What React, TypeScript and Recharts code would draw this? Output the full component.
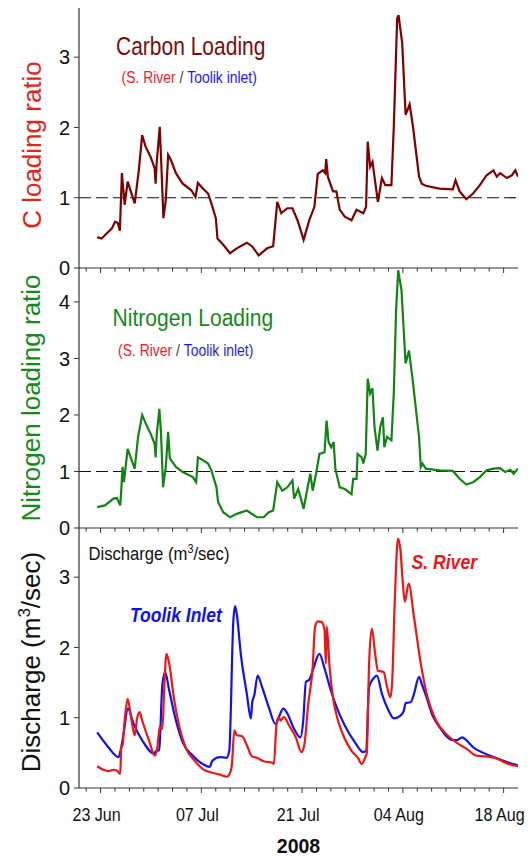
import React from "react";
import { LineChart, Line, XAxis, YAxis, ReferenceLine } from "recharts";

// ---- Shared time axis (day of year, 2008) ----
const domainDays: [number, number] = [172, 233];
const majorDays = [175, 189, 203, 217, 231];
const majorLabels = ["23 Jun", "07 Jul", "21 Jul", "04 Aug", "18 Aug"];
const minorDays = [
  173, 175, 177, 179, 181, 183, 185, 187, 189, 191, 193, 195, 197, 199, 201,
  203, 205, 207, 209, 211, 213, 215, 217, 219, 221, 223, 225, 227, 229, 231,
];

// ---- Carbon loading ratio (S. River / Toolik inlet) ----
const carbonDays = [
  174.53, 175.14, 175.85, 176.55, 177.02, 177.4, 177.68, 177.96, 178.34, 178.76,
  179.74, 180.31, 180.78, 181.24, 181.95, 182.51, 182.65, 182.79, 183.22, 183.45,
  183.73, 184.06, 184.39, 184.76, 185.47, 186.41, 187.58, 188.19, 188.52, 189.22,
  189.93, 190.4, 191.01, 191.24, 192.04, 192.98, 193.92, 195.32, 196.03, 196.97,
  198.14, 198.98, 199.55, 200.11, 200.95, 201.66, 202.36, 203.21, 204.0, 204.71,
  205.18, 205.88, 206.21, 206.35, 206.58, 207.29, 207.76, 208.23, 208.93, 209.87,
  210.57, 211.51, 211.89, 212.12, 212.45, 212.78, 213.53, 214.09, 214.56, 215.41,
  215.74, 216.21, 216.4, 216.91, 217.38, 217.94, 218.41, 219.25, 219.63, 220.19,
  222.07, 223.95, 224.32, 224.89, 225.82, 226.76, 227.7, 228.64, 229.58, 230.05,
  230.52, 231.46, 232.16, 232.63, 233.0,
];
const carbonRatio = [
  0.44, 0.42, 0.49, 0.56, 0.66, 0.64, 0.53, 1.35, 0.9, 1.23,
  0.92, 1.39, 1.89, 1.73, 1.58, 1.42, 1.2, 1.49, 2.01, 1.44,
  0.71, 0.97, 1.61, 1.54, 1.35, 1.2, 1.11, 1.01, 1.21, 1.13,
  1.06, 0.92, 0.71, 0.42, 0.33, 0.21, 0.28, 0.36, 0.31, 0.18,
  0.28, 0.31, 0.94, 0.78, 0.85, 0.85, 0.68, 0.4, 0.68, 0.87,
  1.34, 1.39, 1.35, 1.55, 1.3, 1.09, 1.09, 0.83, 0.73, 0.68,
  0.83, 0.78, 0.87, 1.8, 1.44, 1.51, 0.94, 1.28, 1.18, 1.18,
  2.01, 3.55, 3.6, 3.2, 2.18, 2.33, 2.01, 1.3, 1.2, 1.17,
  1.13, 1.12, 1.25, 1.09, 0.98, 1.06, 1.18, 1.32, 1.39, 1.3,
  1.35, 1.28, 1.32, 1.39, 1.3,
];

// ---- Nitrogen loading ratio (S. River / Toolik inlet) ----
const nitrogenDays = [
  174.53, 175.61, 176.79, 177.26, 177.73, 177.87, 178.05, 178.24, 178.76, 179.74,
  180.21, 180.78, 181.48, 181.95, 182.51, 182.65, 182.79, 183.17, 183.4, 183.68,
  184.06, 184.39, 184.62, 185.47, 186.41, 187.81, 188.28, 188.52, 189.22, 189.93,
  190.4, 191.1, 191.33, 192.04, 192.98, 193.92, 195.32, 196.73, 197.67, 198.37,
  198.98, 199.55, 200.25, 200.95, 201.66, 201.89, 202.46, 202.83, 203.21, 203.77,
  204.14, 204.47, 204.94, 205.41, 206.12, 206.4, 206.68, 207.05, 207.38, 207.62,
  208.23, 208.93, 209.87, 210.1, 210.57, 210.71, 211.28, 211.51, 211.84, 212.12,
  212.45, 212.78, 213.06, 213.48, 213.86, 214.23, 214.42, 214.8, 215.41, 215.74,
  216.06, 216.35, 216.81, 217.38, 217.85, 218.32, 219.25, 219.49, 219.72, 220.19,
  222.07, 223.95, 224.89, 225.82, 226.76, 227.7, 228.64, 229.58, 230.52, 231.22,
  231.93, 232.39, 233.0,
];
const nitrogenRatio = [
  0.37, 0.4, 0.52, 0.53, 0.4, 0.66, 1.08, 0.81, 1.4, 1.05,
  1.61, 2.0, 1.79, 1.67, 1.49, 1.25, 1.64, 2.11, 1.67, 0.72,
  1.08, 1.7, 1.23, 1.08, 0.99, 0.9, 0.81, 1.25, 1.2, 1.14,
  1.02, 0.72, 0.46, 0.28, 0.19, 0.25, 0.31, 0.19, 0.19, 0.28,
  0.31, 0.81, 0.66, 0.72, 0.84, 0.52, 0.69, 0.52, 0.34, 0.72,
  0.96, 0.66, 0.96, 1.31, 1.34, 1.9, 1.52, 1.43, 1.52, 1.05,
  0.72, 0.69, 0.6, 0.87, 0.87, 1.31, 1.25, 1.14, 1.31, 2.64,
  2.38, 2.47, 1.79, 1.37, 1.79, 1.96, 1.43, 1.61, 1.55, 2.38,
  3.85, 4.56, 4.21, 2.91, 3.14, 2.67, 1.61, 1.08, 1.14, 1.05,
  1.02, 1.01, 0.87, 0.77, 0.81, 0.9, 1.02, 1.05, 1.06, 0.99,
  1.03, 0.96, 1.05,
];

// ---- Discharge, Toolik Inlet (m3/sec) ----
const toolikDays = [
  174.53, 176.08, 177.49, 177.87, 178.19, 178.8, 179.6, 180.78, 182.42, 182.75,
  183.12, 183.59, 183.97, 184.53, 185.47, 186.41, 187.81, 189.22, 190.16, 190.54,
  191.57, 192.51, 192.88, 193.45, 193.68, 193.92, 194.48, 195.32, 195.89, 196.07,
  196.36, 196.82, 197.43, 198.37, 199.31, 199.78, 200.39, 200.95, 201.89, 202.74,
  203.16, 203.53, 204.0, 204.47, 205.41, 206.12, 207.05, 207.99, 208.93, 210.34,
  211.51, 211.89, 212.31, 212.92, 213.39, 214.09, 215.03, 215.74, 216.67, 217.14,
  217.38, 218.08, 218.55, 219.25, 219.63, 220.19, 221.13, 222.07, 223.95, 224.42,
  225.26, 225.82, 226.76, 228.17, 229.58, 231.46, 233.0,
];
const toolikFlow = [
  0.79, 0.58, 0.44, 0.58, 0.77, 1.13, 0.91, 0.68, 0.49, 0.53,
  0.53, 1.48, 1.65, 1.39, 0.96, 0.65, 0.46, 0.34, 0.3, 0.39,
  0.44, 0.43, 0.53, 2.39, 2.59, 2.48, 1.91, 1.34, 0.99, 1.22,
  1.32, 1.6, 1.44, 1.15, 0.91, 1.01, 1.13, 1.06, 0.84, 0.72,
  0.96, 1.51, 1.54, 1.67, 1.91, 1.7, 1.37, 1.1, 0.89, 0.65,
  0.51, 0.53, 1.44, 1.56, 1.6, 1.34, 1.1, 0.99, 1.03, 1.1,
  1.21, 1.22, 1.34, 1.58, 1.48, 1.32, 1.03, 0.87, 0.68, 0.68,
  0.72, 0.68, 0.58, 0.5, 0.44, 0.37, 0.32,
];

// ---- Discharge, S. River (m3/sec) ----
const riverDays = [
  174.53, 175.38, 176.08, 176.79, 177.26, 177.73, 177.87, 178.05, 178.34, 178.76,
  179.23, 179.74, 180.07, 180.4, 180.78, 181.71, 182.56, 182.89, 183.22, 183.59,
  183.83, 184.15, 184.53, 185.23, 185.94, 186.88, 188.05, 189.22, 190.4, 191.57,
  192.51, 192.88, 193.21, 193.59, 193.92, 194.62, 195.32, 196.03, 196.73, 197.67,
  198.84, 199.08, 199.45, 199.78, 200.02, 200.48, 201.19, 202.13, 202.92, 203.3,
  203.86, 204.47, 204.8, 205.18, 205.74, 206.12, 206.3, 206.42, 206.82, 207.29,
  207.99, 208.93, 209.87, 210.81, 211.28, 211.75, 211.98, 212.31, 212.69, 213.15,
  213.53, 214.33, 214.8, 215.27, 215.5, 215.88, 216.33, 216.67, 217.0, 217.28,
  217.8, 218.55, 219.49, 220.43, 221.6, 223.01, 224.42, 225.82, 227.23, 228.64,
  230.05, 231.46, 233.0,
];
const riverFlow = [
  0.31, 0.26, 0.24, 0.26, 0.25, 0.2, 0.58, 0.61, 0.96, 1.27,
  1.01, 0.75, 0.99, 1.08, 0.96, 0.68, 0.46, 0.58, 0.87, 0.84,
  1.39, 1.91, 1.77, 1.25, 0.87, 0.56, 0.39, 0.27, 0.22, 0.19,
  0.16, 0.19, 0.3, 0.82, 0.75, 0.74, 0.61, 0.45, 0.43, 0.38,
  0.36, 0.34, 0.91, 1.01, 0.96, 1.01, 0.89, 0.72, 0.51, 0.61,
  1.2, 1.72, 2.29, 2.37, 2.36, 2.24, 1.77, 2.3, 1.72, 1.29,
  0.96, 0.7, 0.53, 0.42, 0.34, 0.43, 0.49, 1.77, 2.27, 1.91,
  1.67, 1.65, 1.44, 1.29, 1.48, 2.67, 3.55, 3.38, 2.91, 2.65,
  2.91, 2.43, 1.77, 1.29, 0.96, 0.77, 0.65, 0.56, 0.46, 0.45,
  0.42, 0.35, 0.31,
];

const pairUp = (days: number[], vals: number[]) =>
  days.map((d, i) => ({ d, v: vals[i] }));

const carbonData = pairUp(carbonDays, carbonRatio);
const nitrogenData = pairUp(nitrogenDays, nitrogenRatio);
const toolikData = pairUp(toolikDays, toolikFlow);
const riverData = pairUp(riverDays, riverFlow);

// ---- Styling ----
const FONT = '"Liberation Sans", Arial, Helvetica, sans-serif';
const FRAME = "#333333";
const W = 530;
const PLOT_LEFT = 79;
const PLOT_RIGHT_GAP = 12;

const BottomTick = (props: any) => {
  const { x, y, payload, withLabel } = props;
  const idx = majorDays.indexOf(payload.value);
  const major = idx >= 0;
  return (
    <g>
      <line x1={x} x2={x} y1={y} y2={y + (major ? 5 : 3.5)} stroke={FRAME} strokeWidth={1} />
      {withLabel && major ? (
        <text
          transform={`translate(${x - 4},${y + 33}) scale(0.87,1)`}
          textAnchor="middle"
          fontSize={18.5}
          fill="#111"
          fontFamily={FONT}
        >
          {majorLabels[idx]}
        </text>
      ) : null}
    </g>
  );
};

const TopTick = (props: any) => {
  const { x, y } = props;
  return <line x1={x} x2={x} y1={y} y2={y + 5} stroke={FRAME} strokeWidth={1} />;
};

const RightTick = (props: any) => {
  const { x, y } = props;
  return <line x1={x - 5} x2={x} y1={y} y2={y} stroke={FRAME} strokeWidth={1} />;
};

type PanelProps = {
  top: number;
  height: number;
  marginTop: number;
  axisHeight: number;
  yMax: number;
  yTicks: number[];
  withLabels: boolean;
  dashedOne: boolean;
  children: React.ReactNode;
};

const Panel = ({ top, height, marginTop, axisHeight, yMax, yTicks, withLabels, dashedOne, children }: PanelProps) => (
  <div style={{ position: "absolute", left: 0, top, width: W, height }}>
    <LineChart
      width={W}
      height={height}
      margin={{ top: marginTop, right: PLOT_RIGHT_GAP, bottom: 0, left: 0 }}
    >
      <XAxis
        xAxisId="b"
        type="number"
        dataKey="d"
        domain={domainDays}
        allowDataOverflow
        ticks={minorDays}
        interval={0}
        tickSize={0}
        tickMargin={0}
        tickLine={false}
        tick={(p: any) => <BottomTick {...p} withLabel={withLabels} />}
        axisLine={{ stroke: FRAME, strokeWidth: 1.2 }}
        height={axisHeight}
      />
      <XAxis
        xAxisId="t"
        orientation="top"
        type="number"
        dataKey="d"
        domain={domainDays}
        allowDataOverflow
        ticks={majorDays}
        interval={0}
        tickSize={0}
        tickMargin={0}
        tickLine={false}
        tick={(p: any) => <TopTick {...p} />}
        axisLine={{ stroke: FRAME, strokeWidth: 1.2 }}
        height={0}
      />
      <YAxis
        yAxisId="l"
        type="number"
        domain={[0, yMax]}
        allowDataOverflow
        ticks={yTicks}
        interval={0}
        width={PLOT_LEFT}
        tickSize={5}
        tickMargin={4}
        tickLine={{ stroke: FRAME }}
        axisLine={{ stroke: FRAME, strokeWidth: 1.2 }}
        tick={{ fontSize: 20, fill: "#111", fontFamily: FONT }}
      />
      <YAxis
        yAxisId="r"
        orientation="right"
        type="number"
        domain={[0, yMax]}
        allowDataOverflow
        ticks={yTicks}
        interval={0}
        width={0}
        tickSize={0}
        tickMargin={0}
        tickLine={false}
        tick={(p: any) => <RightTick {...p} />}
        axisLine={{ stroke: FRAME, strokeWidth: 1.2 }}
      />
      {dashedOne ? (
        <ReferenceLine
          xAxisId="b"
          yAxisId="l"
          y={1}
          stroke="#111"
          strokeWidth={1.2}
          strokeDasharray="12 5"
        />
      ) : null}
      {children}
    </LineChart>
  </div>
);

export default function App() {
  return (
    <div style={{ position: "absolute", left: 0, top: 0, width: W, height: 859, background: "#fff", fontFamily: FONT }}>
      <Panel top={0} height={290} marginTop={8} axisHeight={22} yMax={3.7} yTicks={[0, 1, 2, 3]} withLabels={false} dashedOne>
        <Line
          xAxisId="b"
          yAxisId="l"
          data={carbonData}
          dataKey="v"
          type="linear"
          stroke="#7f0000"
          strokeWidth={2.2}
          dot={false}
          isAnimationActive={false}
        />
      </Panel>
      <Panel top={250} height={300} marginTop={18} axisHeight={22} yMax={4.6} yTicks={[0, 1, 2, 3, 4]} withLabels={false} dashedOne>
        <Line
          xAxisId="b"
          yAxisId="l"
          data={nitrogenData}
          dataKey="v"
          type="linear"
          stroke="#138313"
          strokeWidth={2.2}
          dot={false}
          isAnimationActive={false}
        />
      </Panel>
      <Panel top={510} height={349} marginTop={18} axisHeight={71} yMax={3.7} yTicks={[0, 1, 2, 3]} withLabels dashedOne={false}>
        <Line
          xAxisId="b"
          yAxisId="l"
          data={toolikData}
          dataKey="v"
          type="monotoneX"
          stroke="#1010f0"
          strokeWidth={2.2}
          dot={false}
          isAnimationActive={false}
        />
        <Line
          xAxisId="b"
          yAxisId="l"
          data={riverData}
          dataKey="v"
          type="monotoneX"
          stroke="#f01414"
          strokeWidth={2.2}
          dot={false}
          isAnimationActive={false}
        />
      </Panel>

      {/* Titles, axis titles and series names */}
      <svg
        width={W}
        height={859}
        style={{ position: "absolute", left: 0, top: 0, pointerEvents: "none" }}
        fontFamily={FONT}
      >
        <text transform="translate(41,145) rotate(-90)" textAnchor="middle" fontSize={26} fill="#e3221b">
          C loading ratio
        </text>
        <text transform="translate(40,398) rotate(-90)" textAnchor="middle" fontSize={26} fill="#168a16">
          Nitrogen loading ratio
        </text>
        <text transform="translate(40,662) rotate(-90)" textAnchor="middle" fontSize={26} fill="#111">
          Discharge (m
          <tspan dy={-10} fontSize={17}>3</tspan>
          <tspan dy={10}>/sec)</tspan>
        </text>

        <text transform="translate(116,55) scale(0.84,1)" fontSize={25} fill="#7a0c0c">
          Carbon Loading
        </text>
        <text transform="translate(121.5,83) scale(0.87,1)" fontSize={16}>
          <tspan fill="#f42020">(S. River</tspan>
          <tspan fill="#404040"> / </tspan>
          <tspan fill="#1a1af5">Toolik inlet)</tspan>
        </text>

        <text transform="translate(112.5,326) scale(0.855,1)" fontSize={24.7} fill="#168a16">
          Nitrogen Loading
        </text>
        <text transform="translate(118,356) scale(0.87,1)" fontSize={16}>
          <tspan fill="#f42020">(S. River</tspan>
          <tspan fill="#404040"> / </tspan>
          <tspan fill="#1a1af5">Toolik inlet)</tspan>
        </text>

        <text transform="translate(88.5,560) scale(0.9,1)" fontSize={18.5} fill="#111">
          Discharge (m
          <tspan dy={-7} fontSize={12}>3</tspan>
          <tspan dy={7}>/sec)</tspan>
        </text>
        <text transform="translate(130,621.5) scale(0.835,1)" fontSize={21} fontWeight="bold" fontStyle="italic" fill="#1212ee">
          Toolik Inlet
        </text>
        <text transform="translate(411.5,569) scale(0.88,1)" fontSize={20} fontWeight="bold" fontStyle="italic" fill="#f01414">
          S. River
        </text>
        <text transform="translate(298.5,853) scale(0.93,1)" textAnchor="middle" fontSize={21} fontWeight="bold" fill="#111">
          2008
        </text>
      </svg>
    </div>
  );
}
